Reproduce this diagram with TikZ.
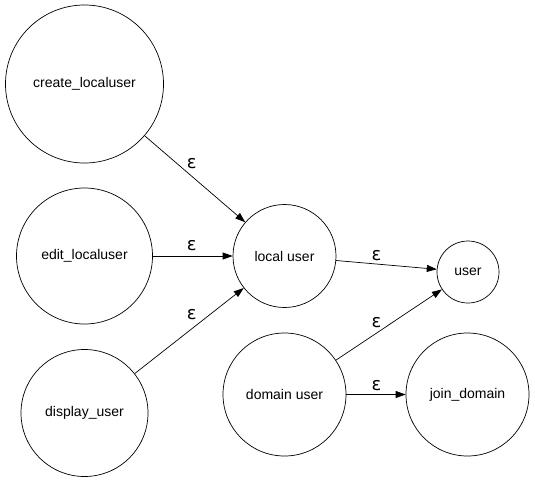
\documentclass[tikz,border=0pt]{standalone}
\usepackage{fontspec}
\setmainfont{Liberation Sans}
\newfontfamily\epsfont{DejaVu Sans}
\usetikzlibrary{arrows.meta}
\begin{document}
\begin{tikzpicture}[x=1pt,y=-1pt,
  state/.style={circle,draw=black,line width=0.7pt,inner sep=0pt,
    font=\fontsize{14}{16}\selectfont},
  edge/.style={draw=black,line width=0.7pt,-{Triangle[length=10pt,width=7pt]}},
  lbl/.style={inner sep=0pt,font=\epsfont\fontsize{18}{20}\selectfont}]
\useasboundingbox (0,0) rectangle (535,483);
% states
\node[state,minimum size=158pt] (create) at (84.5,84) {create\_localuser};
\node[state,minimum size=136pt] (edit) at (84.5,256) {edit\_localuser};
\node[state,minimum size=127pt] (display) at (84.5,413) {display\_user};
\node[state,minimum size=103pt] (local) at (284.5,256) {local user};
\node[state,minimum size=62pt] (user) at (468,272) {user};
\node[state,minimum size=123pt] (domain) at (284.5,394.5) {domain user};
\node[state,minimum size=123pt] (join) at (467.5,394.5) {join\_domain};
% transitions
\draw[edge] (create) -- (local);
\draw[edge] (edit) -- (local);
\draw[edge] (display) -- (local);
\draw[edge] (local) -- (user);
\draw[edge] (domain) -- (user);
\draw[edge] (domain) -- (join);
% transition labels
\node[lbl] (l1) at (191.7,164) {ε};
\node[lbl] (l2) at (191.7,246) {ε};
\node[lbl] (l3) at (191.7,315) {ε};
\node[lbl] (l4) at (376.5,256) {ε};
\node[lbl] (l5) at (376.5,323) {ε};
\node[lbl] (l6) at (376.5,385.5) {ε};
\end{tikzpicture}
\end{document}
